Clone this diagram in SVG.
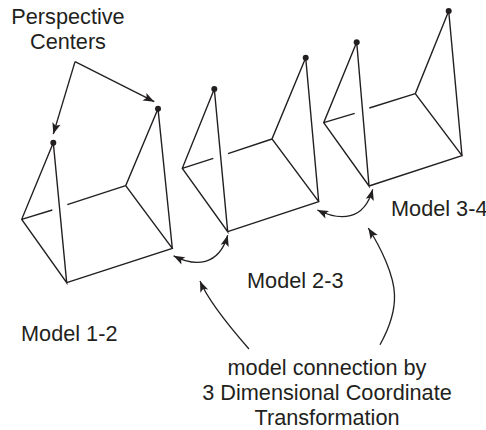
<svg xmlns="http://www.w3.org/2000/svg" width="486" height="430" viewBox="0 0 486 430">
<style>
.l{fill:none;stroke:#231f20;stroke-width:1.4;stroke-linejoin:miter}
.c{fill:none;stroke:#231f20;stroke-width:1.3}
.d{fill:#231f20}
text{font-family:"Liberation Sans",Arial,sans-serif;font-size:21.7px;fill:#231f20}
.m{text-anchor:middle}
</style>
<defs>
<marker id="a" markerUnits="userSpaceOnUse" markerWidth="14" markerHeight="10" refX="12" refY="5" orient="auto-start-reverse">
<path d="M12 5L1 .8L3.5 5L1 9.2Z" fill="#231f20"/>
</marker>
</defs>
<rect width="486" height="430" fill="#fff"/>
<g id="model-1-2">
<path class="l" d="M53.3 142.7L21.7 219.3L66.7 282.7L53.3 142.7M66.7 282.7L172.3 248.3L125.7 185.7L158 108.7L172.3 248.3M21.7 219.3L52.3 210M67.3 204.7L125.7 185.7"/>
<circle class="d" cx="53.3" cy="142.7" r="3"/><circle class="d" cx="158" cy="108.7" r="3"/>
<text x="21" y="341">Model 1-2</text>
</g>
<g id="model-2-3">
<path class="l" d="M214.3 89L182.3 168.3L227.7 231.7L214.3 89M227.7 231.7L318.7 201.7L272 139L305.7 57.7L318.7 201.7M182.3 168.3L213.3 158.3M228 153.7L272 139"/>
<circle class="d" cx="214.3" cy="89" r="3"/><circle class="d" cx="305.7" cy="57.7" r="3"/>
<text x="247" y="288">Model 2-3</text>
</g>
<g id="model-3-4">
<path class="l" d="M356.7 42.3L323.7 122.7L369 186L356.7 42.3M369 186L462 155.7L415.3 93.7L448.7 11L462 155.7M323.7 122.7L354.7 113.3M369.3 108L415.3 93.7"/>
<circle class="d" cx="356.7" cy="42.3" r="3"/><circle class="d" cx="448.7" cy="11" r="3"/>
<text x="391" y="216">Model 3-4</text>
</g>
<g id="perspective-centers">
<text class="m" x="68" y="23.5">Perspective</text>
<text class="m" x="68" y="49">Centers</text>
</g>
<g id="caption">
<text class="m" x="327" y="375">model connection by</text>
<text class="m" x="327" y="400">3 Dimensional Coordinate</text>
<text class="m" x="327" y="425">Transformation</text>
</g>
<g id="connectors">
<path class="c" marker-end="url(#a)" d="M75 61.7L53.3 134"/>
<path class="c" marker-end="url(#a)" d="M75 61.7L154.3 101.7"/>
<path class="c" marker-start="url(#a)" marker-end="url(#a)" d="M173.6 255.8C195 267 219 266 227.7 235.3"/>
<path class="c" marker-start="url(#a)" marker-end="url(#a)" d="M317.3 210C340 221 364 221 372.7 189.3"/>
<path class="c" marker-end="url(#a)" d="M249 349C228 325 208 300 200 281"/>
<path class="c" marker-end="url(#a)" d="M380 344.7C391 325 395 310 394.5 295C394 275 381 248 368.3 228"/>
</g>
</svg>
